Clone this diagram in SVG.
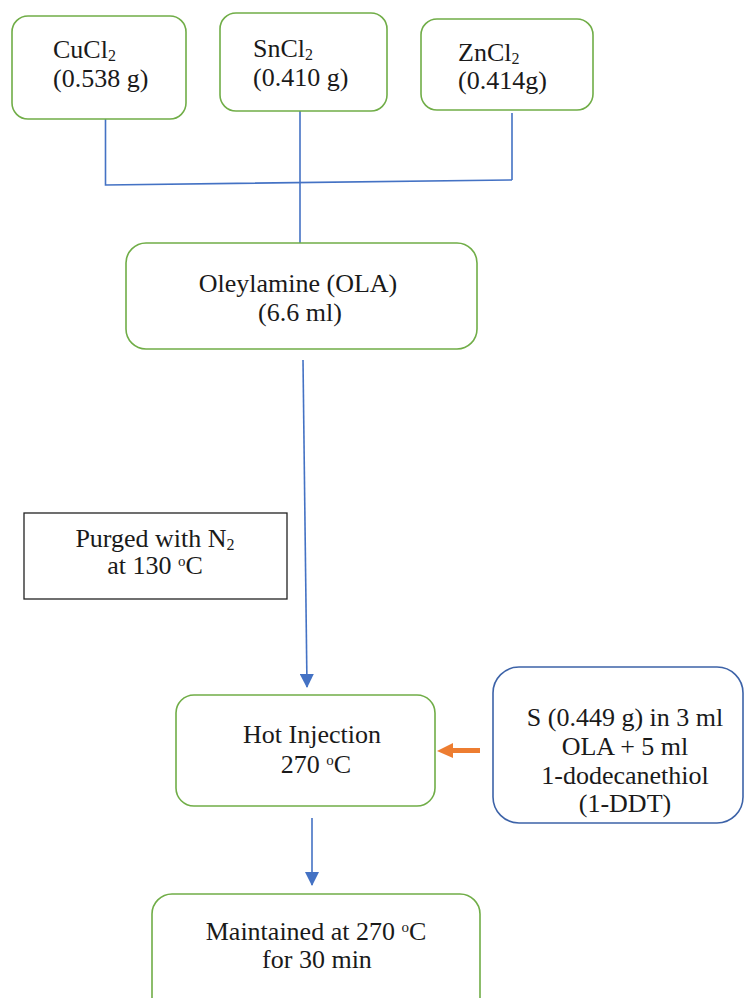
<svg xmlns="http://www.w3.org/2000/svg" width="745" height="998" viewBox="0 0 745 998">
<defs>
<style>
text{font-size:26px;fill:#1a1a1a}
.g{fill:#fff;stroke:#70AD47;stroke-width:1.6}
.b{fill:#fff;stroke:#3D63A8;stroke-width:1.6}
.k{fill:#fff;stroke:#222;stroke-width:1.3}
.c{fill:none;stroke:#4472C4;stroke-width:1.6}
.m{text-anchor:middle}
.sub{font-size:16px}
.sup{font-size:15px}
</style>
<marker id="ah" markerUnits="userSpaceOnUse" markerWidth="14" markerHeight="14" viewBox="0 0 14 14" refX="13" refY="7" orient="auto">
<path d="M0,0 L14,7 L0,14 Z" fill="#4472C4"/>
</marker>
</defs>
<rect width="745" height="998" fill="#fff"/>
<g id="connectors">
<path class="c" d="M105.5,119 V185 L512,180 M512,113 V180"/>
<path class="c" d="M300,111 V243"/>
<path class="c" d="M303,360 L307,687" marker-end="url(#ah)"/>
<path class="c" d="M312,818 V885" marker-end="url(#ah)"/>
<path d="M480,748 H453 V743 L437,751 L453,758 V753 H480 Z" fill="#ED7D31"/>
</g>
<g font-family="Liberation Serif, Times New Roman, serif">
<g id="cucl2">
<rect class="g" x="12" y="16" width="174" height="103" rx="16"/>
<text x="53" y="58">CuCl<tspan class="sub" dy="3">2</tspan></text>
<text x="53" y="87">(0.538 g)</text>
</g>
<g id="sncl2">
<rect class="g" x="220" y="13" width="167" height="98" rx="16"/>
<text x="253" y="57">SnCl<tspan class="sub" dy="3">2</tspan></text>
<text x="253" y="86">(0.410 g)</text>
</g>
<g id="zncl2">
<rect class="g" x="421" y="19" width="172" height="91" rx="16"/>
<text x="458" y="61">ZnCl<tspan class="sub" dy="3">2</tspan></text>
<text x="458" y="89">(0.414g)</text>
</g>
<g id="ola">
<rect class="g" x="126" y="243" width="351" height="106" rx="20"/>
<text class="m" x="298" y="292">Oleylamine (OLA)</text>
<text class="m" x="300" y="321">(6.6 ml)</text>
</g>
<g id="purged">
<rect class="k" x="24" y="513" width="263" height="86"/>
<text class="m" x="155" y="547">Purged with N<tspan class="sub" dy="3">2</tspan></text>
<text class="m" x="155" y="574">at 130 <tspan class="sup" dy="-8">o</tspan><tspan dy="8">C</tspan></text>
</g>
<g id="hot">
<rect class="g" x="176" y="695" width="259" height="111" rx="18"/>
<text class="m" x="312" y="743">Hot Injection</text>
<text class="m" x="316" y="773">270 <tspan class="sup" dy="-8">o</tspan><tspan dy="8">C</tspan></text>
</g>
<g id="sulfur">
<rect class="b" x="493" y="667" width="250" height="156" rx="26"/>
<text class="m" x="625" y="726">S (0.449 g) in 3 ml</text>
<text class="m" x="625" y="755">OLA + 5 ml</text>
<text class="m" x="625" y="784">1-dodecanethiol</text>
<text class="m" x="625" y="812">(1-DDT)</text>
</g>
<g id="maintained">
<rect class="g" x="152" y="894" width="328" height="130" rx="20"/>
<text class="m" x="316" y="940">Maintained at 270 <tspan class="sup" dy="-8">o</tspan><tspan dy="8">C</tspan></text>
<text class="m" x="317" y="968">for 30 min</text>
</g>
</g>
</svg>
